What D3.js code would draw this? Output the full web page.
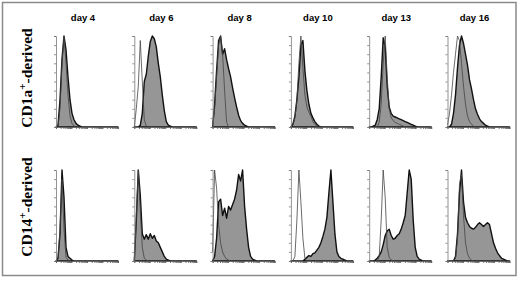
<!DOCTYPE html>
<html>
<head>
<meta charset="utf-8">
<script src="https://cdn.jsdelivr.net/npm/d3@7"></script>
<style>
  body { margin: 0; background: #fff; }
</style>
</head>
<body>
<script>
// size variables
var width = 520, height = 282;

// column titles and row labels
var days = ["day 4", "day 6", "day 8", "day 10", "day 13", "day 16"];
var rows = ["CD1a", "CD14"];

// histograms, 32 channels each, % of panel height
// CD1a+-derived row
var cd1a_d4_stain  = [0,2,30,75,100,85,55,30,15,8,4,2,1,0,0,0,0,0,0,0,0,0,0,0,0,0,0,0,0,0,0,0];
var cd1a_d4_ctrl   = [0,1,20,70,100,70,35,12,4,1,0,0,0,0,0,0,0,0,0,0,0,0,0,0,0,0,0,0,0,0,0,0];
var cd1a_d6_stain  = [0,0,0,2,15,50,58,78,94,100,97,88,70,55,35,18,6,2,1,0,0,0,0,0,0,0,0,0,0,0,0,0];
var cd1a_d6_ctrl   = [0,20,45,95,50,8,1,0,0,0,0,0,0,0,0,0,0,0,0,0,0,0,0,0,0,0,0,0,0,0,0,0];
var cd1a_d8_stain  = [0,25,62,95,100,80,86,74,64,55,43,32,22,13,7,4,2,1,0,0,0,0,0,0,0,0,0,0,0,0,0,0];
var cd1a_d8_ctrl   = [0,20,55,90,100,80,40,5,0,0,0,0,0,0,0,0,0,0,0,0,0,0,0,0,0,0,0,0,0,0,0,0];
var cd1a_d10_stain = [0,3,12,30,55,90,95,62,40,25,15,10,6,3,1,0,0,0,0,0,0,0,0,0,0,0,0,0,0,0,0,0];
var cd1a_d10_ctrl  = [0,2,10,30,70,100,65,35,22,16,12,6,3,1,0,0,0,0,0,0,0,0,0,0,0,0,0,0,0,0,0,0];
var cd1a_d13_stain = [0,0,1,2,8,20,55,98,88,45,22,15,12,11,10,9,8,7,6,5,4,3,2,1,0,0,0,0,0,0,0,0];
var cd1a_d13_ctrl  = [0,0,0,0,0,5,25,70,100,55,20,10,7,5,4,3,2,1,0,0,0,0,0,0,0,0,0,0,0,0,0,0];
var cd1a_d16_stain = [0,0,3,15,35,65,90,100,92,80,68,52,42,30,20,14,9,6,4,2,1,0,0,0,0,0,0,0,0,0,0,0];
var cd1a_d16_ctrl  = [2,15,35,60,80,100,95,70,45,25,12,6,3,1,0,0,0,0,0,0,0,0,0,0,0,0,0,0,0,0,0,0];
// CD14+-derived row
var cd14_d4_stain  = [0,3,30,100,70,15,5,3,1,0,0,0,0,0,0,0,0,0,0,0,0,0,0,0,0,0,0,0,0,0,0,0];
var cd14_d4_ctrl   = [0,2,35,90,35,4,1,0,0,0,0,0,0,0,0,0,0,0,0,0,0,0,0,0,0,0,0,0,0,0,0,0];
var cd14_d6_stain  = [0,45,100,72,30,24,29,24,30,25,28,22,20,15,10,5,2,1,0,0,0,0,0,0,0,0,0,0,0,0,0,0];
var cd14_d6_ctrl   = [0,50,100,55,15,3,1,0,0,0,0,0,0,0,0,0,0,0,0,0,0,0,0,0,0,0,0,0,0,0,0,0];
var cd14_d8_stain  = [0,5,25,65,68,50,58,47,60,56,62,68,78,95,88,100,60,35,15,5,2,1,0,0,0,0,0,0,0,0,0,0];
var cd14_d8_ctrl   = [10,100,80,40,20,10,5,2,1,0,0,0,0,0,0,0,0,0,0,0,0,0,0,0,0,0,0,0,0,0,0,0];
var cd14_d10_stain = [0,0,0,0,0,0,0,2,4,6,5,8,9,12,15,20,27,35,48,75,100,65,30,10,5,3,2,1,0,0,0,0];
var cd14_d10_ctrl  = [0,0,5,45,100,65,25,3,0,0,0,0,0,0,0,0,0,0,0,0,0,0,0,0,0,0,0,0,0,0,0,0];
var cd14_d13_stain = [0,0,0,1,3,6,10,18,28,33,35,28,24,25,28,30,35,42,50,75,100,90,45,15,5,2,1,0,0,0,0,0];
var cd14_d13_ctrl  = [0,0,0,0,0,5,45,100,70,15,4,1,0,0,0,0,0,0,0,0,0,0,0,0,0,0,0,0,0,0,0,0];
var cd14_d16_stain = [0,0,0,0,5,30,75,100,65,48,42,38,36,35,37,40,42,40,38,40,42,40,30,20,14,9,6,3,2,1,0,0];
var cd14_d16_ctrl  = [0,0,0,0,3,25,85,95,50,20,8,3,1,0,0,0,0,0,0,0,0,0,0,0,0,0,0,0,0,0,0,0];

var stains = [
  [cd1a_d4_stain, cd1a_d6_stain, cd1a_d8_stain, cd1a_d10_stain, cd1a_d13_stain, cd1a_d16_stain],
  [cd14_d4_stain, cd14_d6_stain, cd14_d8_stain, cd14_d10_stain, cd14_d13_stain, cd14_d16_stain]
];
var ctrls = [
  [cd1a_d4_ctrl, cd1a_d6_ctrl, cd1a_d8_ctrl, cd1a_d10_ctrl, cd1a_d13_ctrl, cd1a_d16_ctrl],
  [cd14_d4_ctrl, cd14_d6_ctrl, cd14_d8_ctrl, cd14_d10_ctrl, cd14_d13_ctrl, cd14_d16_ctrl]
];

var panelW = 62, panelH = 91;

var svg = d3.select('body').append('svg').attr('width', width).attr('height', height);

// outer frame
svg.append('rect')
  .attr('x', 2.5).attr('y', 2.5).attr('width', 513.5).attr('height', 273)
  .attr('fill', '#fff').attr('stroke', '#8a8a8a').attr('stroke-width', 1.5);

// panel placement
var colX = d3.scalePoint().domain(days).range([56, 447.5]);
var rowY = d3.scalePoint().domain(rows).range([36, 170]);

// channel and count scales inside a panel
var x = d3.scaleLinear().domain([0, 31]).range([0, panelW]);
var xLog = d3.scaleLog().domain([1, 1e4]).range([0, panelW]);
var y = d3.scaleLinear().domain([0, 100]).range([panelH, 0]);

var area = d3.area().x((d, i) => x(i)).y0(panelH).y1(d => y(d));
var line = d3.line().x((d, i) => x(i)).y(d => y(d));

// column titles
svg.selectAll('.day').data(days).join('text')
  .attr('class', 'day')
  .attr('x', d => colX(d) + 27)
  .attr('y', 21)
  .attr('text-anchor', 'middle')
  .attr('font-family', 'Liberation Sans, Arial, sans-serif')
  .attr('font-weight', 'bold')
  .attr('font-size', '9.5px')
  .text(d => d);

// row labels, rotated
var labelY = [78, 207];
rows.forEach((r, ri) => {
  var t = svg.append('text')
    .attr('transform', 'translate(32,' + labelY[ri] + ') rotate(-90)')
    .attr('text-anchor', 'middle')
    .attr('font-family', 'Liberation Serif, Times New Roman, serif')
    .attr('font-weight', 'bold')
    .attr('font-size', '15.5px');
  t.append('tspan').text(r);
  t.append('tspan').attr('dy', -6).attr('font-size', '11px').text('+');
  t.append('tspan').attr('dy', 6).text('-derived');
});

// panels
rows.forEach((r, ri) => {
  days.forEach((d, ci) => {
    var g = svg.append('g')
      .attr('transform', 'translate(' + colX(d) + ',' + rowY(r) + ')');

    // filled stained histogram
    g.append('path')
      .datum(stains[ri][ci])
      .attr('d', area)
      .attr('fill', '#969696')
      .attr('stroke', '#111')
      .attr('stroke-width', 1.4)
      .attr('stroke-linejoin', 'round');

    // open control histogram
    g.append('path')
      .datum(ctrls[ri][ci])
      .attr('d', line)
      .attr('fill', 'none')
      .attr('stroke', '#444')
      .attr('stroke-width', 0.8);

    // y axis
    g.append('g')
      .call(d3.axisLeft(y).ticks(10).tickSize(2).tickFormat(''))
      .call(a => a.select('.domain').attr('stroke', '#777').attr('stroke-width', 0.8))
      .call(a => a.selectAll('.tick line').attr('stroke', '#777').attr('stroke-width', 0.8));

    // x axis (log decades with minor ticks)
    g.append('g')
      .attr('transform', 'translate(0,' + panelH + ')')
      .call(d3.axisBottom(xLog).tickSize(2).tickFormat(''))
      .call(a => a.select('.domain').attr('stroke', '#777').attr('stroke-width', 0.8))
      .call(a => a.selectAll('.tick line').attr('stroke', '#555').attr('stroke-width', 0.8));
  });
});
</script>
</body>
</html>
